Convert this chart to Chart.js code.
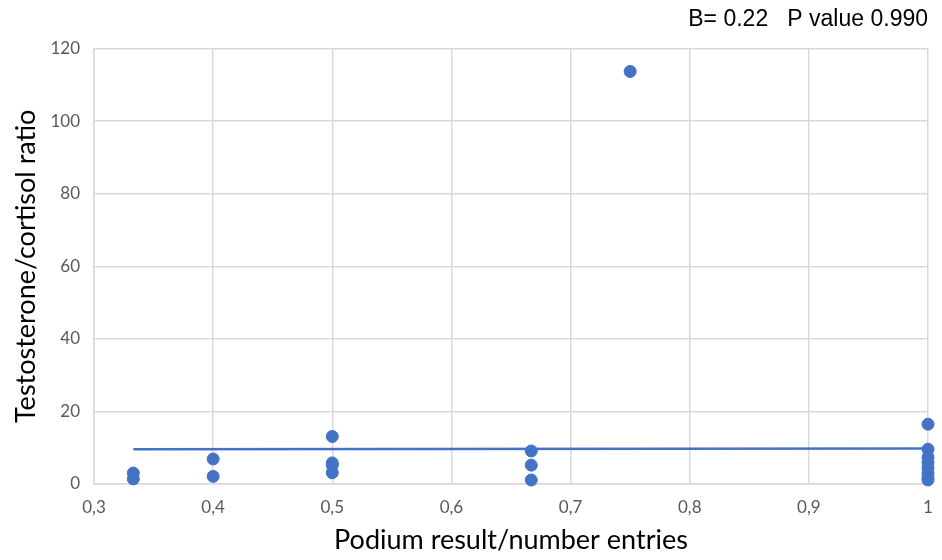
<!DOCTYPE html>
<html>
<head>
<meta charset="utf-8">
<script src="https://cdn.jsdelivr.net/npm/chart.js@4"></script>
<style>
  body { margin: 0; background: #fff; }
  #wrap { width: 942px; height: 560px; }
</style>
</head>
<body>
<div id="wrap"><canvas id="chart" width="942" height="560"></canvas></div>
<script>
// podium result / number of entries
const podiumRatio = [0.333, 0.333, 0.4, 0.4, 0.5, 0.5, 0.5, 0.5, 0.667, 0.667, 0.667, 0.75,
  1, 1, 1, 1, 1, 1, 1, 1];
// testosterone/cortisol ratio
const tcRatio = [3.0, 1.4, 6.9, 2.1, 13.1, 5.8, 5.2, 3.1, 9.1, 5.2, 1.1, 113.7,
  16.5, 9.6, 7.4, 6.0, 4.5, 3.0, 1.8, 1.1];
// linear trend line end points
const trendX = [0.333, 1];
const trendY = [9.6, 9.8];

const yTicks = [0, 20, 40, 60, 80, 100, 120];
const annotation = "B= 0.22   P value 0.990";

const pointColor = "#4472C4";
const gridColor = "#d9d9d9";
const tickColor = "#595959";
const labelFont = "Lato, 'Liberation Sans', sans-serif";

const scatterData = podiumRatio.map((x, i) => ({ x: x, y: tcRatio[i] }));
const trendData = trendX.map((x, i) => ({ x: x, y: trendY[i] }));

new Chart(document.getElementById("chart").getContext("2d"), {
  type: "scatter",
  data: {
    datasets: [
      {
        label: "T/C ratio",
        data: scatterData,
        backgroundColor: pointColor,
        borderColor: pointColor,
        pointRadius: 6,
        pointHoverRadius: 6,
        clip: false,
      },
      {
        type: "line",
        label: "Linear trend",
        data: trendData,
        borderColor: pointColor,
        borderWidth: 2.5,
        pointRadius: 0,
        fill: false,
      },
    ],
  },
  options: {
    responsive: false,
    animation: false,
    layout: { padding: { left: 0, right: 14, top: 2, bottom: 0 } },
    plugins: {
      legend: { display: false },
      tooltip: { enabled: false },
      title: {
        display: true,
        text: annotation,
        align: "end",
        color: "#000",
        font: { family: "'Liberation Sans', Arial, sans-serif", size: 23, weight: "normal" },
        padding: { top: 4, bottom: 15 },
      },
    },
    scales: {
      x: {
        type: "linear",
        min: 0.3,
        max: 1,
        afterFit: (scale) => {
          scale.height = 76;
          scale.paddingLeft = 0;
          scale.paddingRight = 0;
        },
        ticks: {
          stepSize: 0.1,
          color: tickColor,
          padding: 13,
          font: { family: labelFont, size: 17 },
          callback: (v) => (Math.abs(v - 1) < 1e-9 ? "1" : v.toFixed(1).replace(".", ",")),
        },
        grid: { color: gridColor, lineWidth: 1.5, drawTicks: false },
        border: { color: gridColor, width: 1.5 },
        title: {
          display: true,
          text: "Podium result/number entries",
          color: "#000",
          font: { family: labelFont, size: 27 },
          padding: { top: 9 },
        },
      },
      y: {
        min: 0,
        max: 120,
        afterFit: (scale) => { scale.width = 94; },
        afterBuildTicks: (scale) => { scale.ticks = yTicks.map((v) => ({ value: v })); },
        ticks: {
          color: tickColor,
          padding: 14,
          font: { family: labelFont, size: 17 },
        },
        grid: { color: gridColor, lineWidth: 1.5, drawTicks: false },
        border: { color: gridColor, width: 1.5 },
        title: {
          display: true,
          text: "Testosterone/cortisol ratio",
          color: "#000",
          font: { family: labelFont, size: 27 },
          padding: { top: 10, bottom: 6 },
        },
      },
    },
  },
});
</script>
</body>
</html>
